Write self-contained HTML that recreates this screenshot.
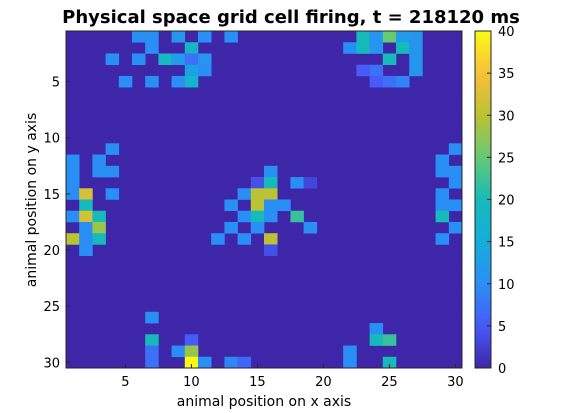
<!DOCTYPE html>
<html><head><meta charset="utf-8"><style>
html,body{margin:0;padding:0;background:#fff;}
svg{display:block;font-family:"DejaVu Sans","Liberation Sans",sans-serif;}
</style></head><body>
<svg id="chart" width="570" height="413" viewBox="0 0 570 413">
<text x="291" y="23" text-anchor="middle" font-size="18" font-weight="bold">Physical space grid cell firing, t = 218120 ms</text>
<rect x="66" y="31" width="396" height="337" fill="#3e26a8"/>
<g id="cells"></g>
<rect x="66" y="31" width="396" height="337" fill="none" stroke="#262626" stroke-width="1"/>
<g id="xticks"></g>
<g id="yticks"></g>
<text x="264" y="406" text-anchor="middle" font-size="14">animal position on x axis</text>
<text transform="translate(36,200) rotate(-90)" text-anchor="middle" font-size="14">animal position on y axis</text>
<defs><linearGradient id="cbgrad" x1="0" y1="1" x2="0" y2="0"></linearGradient></defs>
<rect x="475" y="31" width="16" height="337" fill="url(#cbgrad)" stroke="#262626" stroke-width="1"/>
<g id="cbticks"></g>
</svg>
<script>
const nRows = 30;
const nCols = 30;
const vMax = 40;
const xTickLabels = [5, 10, 15, 20, 25, 30];
const yTickLabels = [5, 10, 15, 20, 25, 30];
const cbTickLabels = [0, 5, 10, 15, 20, 25, 30, 35, 40];
const cellRows = [1,1,1,1,1,1,1,1,1,1, 2,2,2,2,2,2,2, 3,3,3,3,3,3,3,3, 4,4,4,4,4, 5,5,5,5,5,5,5, 11,11, 12,12,12, 13,13,13,13,13,13, 14,14,14,14,14,14, 15,15,15,15,15,15,15, 16,16,16,16,16,16,16, 17,17,17,17,17,17,17,17, 18,18,18,18,18,18, 19,19,19,19,19,19,19, 20,20, 26, 27, 28,28,28,28, 29,29,29,29, 30,30,30,30,30,30,30];
const cellCols = [6,7,9,11,13,23,24,25,26,27, 7,10,22,23,24,26,27, 4,6,8,9,10,11,25,27, 10,11,23,24,27, 5,7,9,10,24,25,26, 4,30, 1,3,29, 1,3,4,16,29,30, 1,15,16,18,19,30, 1,2,4,14,15,16,29, 2,13,15,16,17,29,30, 1,2,3,14,15,16,18,29, 2,3,13,15,19,30, 1,2,3,12,14,16,29, 2,16, 7, 24, 7,10,24,25, 7,9,10,22, 7,10,11,13,14,22,25];
const cellValues = [10,10,11,10,10,20,11,25,12,11, 10,18,10,20,11,20,11, 10,10,19,12,7,11,20,11, 13,10,5,7,11, 10,10,10,17,5,7,9, 10,10, 10,10,10, 10,10,10,10,10,10, 10,4,20,10,3,10, 10,32,10,10,30,30,10, 20,10,30,10,10,10,10, 10,32,20,10,20,10,22,20, 10,28,10,10,10,10, 30,10,20,10,10,30,10, 10,4, 10, 10, 20,5,20,22, 7,10,28,10, 7,40,10,9,6,10,20];

const X0=66, Y0=31, W=396, H=337;
const cw=W/nCols, ch=H/nRows;
const xPos = c => X0 + (c-1)*cw;
const yPos = r => Y0 + (r-1)*ch;
const stops=[[0,[0.2422,0.1504,0.6603]],[0.125,[0.2780,0.3556,0.9777]],[0.25,[0.1650,0.5620,0.9590]],[0.375,[0.0750,0.6800,0.8600]],[0.5,[0.0900,0.7300,0.7300]],[0.625,[0.3970,0.7930,0.4490]],[0.75,[0.7350,0.7620,0.2010]],[0.875,[0.9760,0.7460,0.2360]],[1,[0.9769,0.9839,0.0805]]];
function parula(t){t=Math.max(0,Math.min(1,t));for(let i=1;i<stops.length;i++){if(t<=stops[i][0]){const a=stops[i-1],b=stops[i];const f=(t-a[0])/(b[0]-a[0]);const c=a[1].map((v,k)=>Math.round(255*(v+(b[1][k]-v)*f)));return `rgb(${c[0]},${c[1]},${c[2]})`;}}return 'rgb(249,251,21)';}
const NS="http://www.w3.org/2000/svg";
const g=document.getElementById('cells');
for(let i=0;i<cellValues.length;i++){
  const r=document.createElementNS(NS,'rect');
  r.setAttribute('x',xPos(cellCols[i]));r.setAttribute('y',yPos(cellRows[i]));
  r.setAttribute('width',cw+0.3);r.setAttribute('height',ch+0.3);
  r.setAttribute('fill',parula(cellValues[i]/vMax));
  
  
  g.appendChild(r);
}
const xg=document.getElementById('xticks');
xTickLabels.forEach(v=>{const x=xPos(v)+cw/2;
  const l=document.createElementNS(NS,'line');l.setAttribute('x1',x);l.setAttribute('x2',x);l.setAttribute('y1',Y0+H);l.setAttribute('y2',Y0+H-4);l.setAttribute('stroke','#262626');
  
  
  xg.appendChild(l);
  const t=document.createElementNS(NS,'text');t.setAttribute('x',x);t.setAttribute('y',386);t.setAttribute('text-anchor','middle');t.setAttribute('font-size','13');t.textContent=v;
  
  
  xg.appendChild(t);});
const yg=document.getElementById('yticks');
yTickLabels.forEach(v=>{const y=yPos(v)+ch/2;
  const l=document.createElementNS(NS,'line');l.setAttribute('x1',X0);l.setAttribute('x2',X0+4);l.setAttribute('y1',y);l.setAttribute('y2',y);l.setAttribute('stroke','#262626');
  
  
  yg.appendChild(l);
  const t=document.createElementNS(NS,'text');t.setAttribute('x',60);t.setAttribute('y',y+5);t.setAttribute('text-anchor','end');t.setAttribute('font-size','13');t.textContent=v;
  
  
  yg.appendChild(t);});
const grad=document.getElementById('cbgrad');
for(let i=0;i<=20;i++){const s=document.createElementNS(NS,'stop');s.setAttribute('offset',i/20);s.setAttribute('stop-color',parula(i/20));grad.appendChild(s);}
const cg=document.getElementById('cbticks');
cbTickLabels.forEach(v=>{const y=Y0+H-(v/vMax)*H;
  const l=document.createElementNS(NS,'line');l.setAttribute('x1',487);l.setAttribute('x2',491);l.setAttribute('y1',y);l.setAttribute('y2',y);l.setAttribute('stroke','#262626');
  
  
  cg.appendChild(l);
  const t=document.createElementNS(NS,'text');t.setAttribute('x',498);t.setAttribute('y',y+5);t.setAttribute('font-size','13');t.textContent=v;
  
  
  cg.appendChild(t);});
</script>
</body></html>
